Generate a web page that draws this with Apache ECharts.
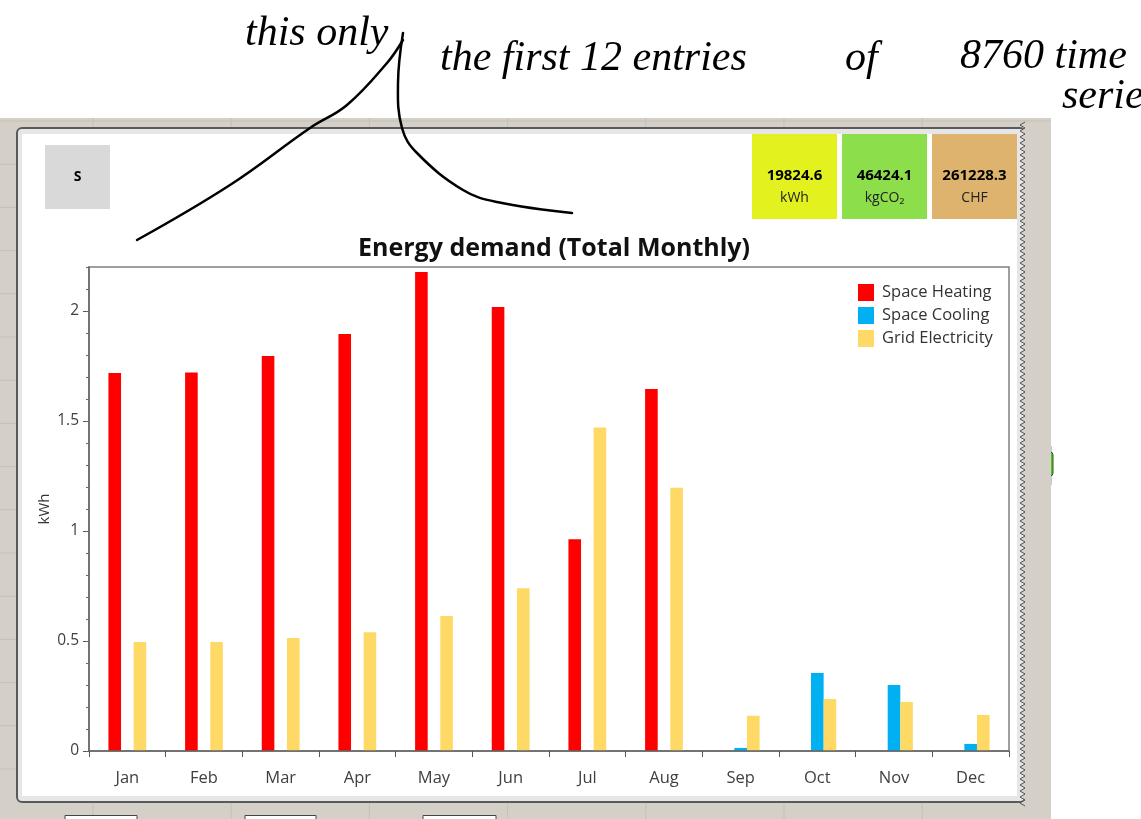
<!DOCTYPE html>
<html><head><meta charset="utf-8">
<script src="https://cdn.jsdelivr.net/npm/echarts@6/dist/echarts.min.js"></script>
<style>html,body{margin:0;padding:0;background:#fff}#c{width:1141px;height:819px}</style>
</head><body><div id="c"></div>
<script>
// ---- data ----
const months = ['Jan','Feb','Mar','Apr','May','Jun','Jul','Aug','Sep','Oct','Nov','Dec'];
const spaceHeating    = [1.718, 1.72, 1.795, 1.895, 2.177, 2.018, 0.962, 1.645, 0, 0, 0, 0];
const spaceCooling    = [0, 0, 0, 0, 0, 0, 0, 0, 0.014, 0.355, 0.300, 0.032];
const gridElectricity = [0.495, 0.495, 0.514, 0.540, 0.614, 0.740, 1.470, 1.197, 0.160, 0.236, 0.223, 0.164];
const seriesNames = ['Space Heating','Space Cooling','Grid Electricity'];
const kpiValues = ['19824.6','46424.1','261228.3'];
const kpiUnits  = ['kWh','kgCO\u2082','CHF'];
const yMin = 0, yMax = 2.2, yMajor = 0.5, yMinor = 0.1;

// ---- decoration ----
const g = [];
g.push({type:'rect', shape:{x:0,y:118,width:1051,height:701}, style:{fill:'#d4d0c8'}, z:0});
for (let i=0;i<8;i++){ const x=93+138.2*i; if(x<1051) g.push({type:'line', shape:{x1:x,y1:118,x2:x,y2:819}, style:{stroke:'#c4c0b8',lineWidth:1}, z:0}); }
for (let i=0;i<16;i++){ const y=121+43.2*i; g.push({type:'line', shape:{x1:0,y1:y,x2:1051,y2:y}, style:{stroke:'#c4c0b8',lineWidth:1}, z:0}); }
g.push({type:'rect', shape:{x:1038,y:446,width:13,height:39}, style:{fill:'#b7a6e2',stroke:'#9a88c8',lineWidth:1}, z:1});
g.push({type:'rect', shape:{x:1047,y:452,width:6,height:24,r:3}, style:{fill:'#5fc02a',stroke:'#2c5a10',lineWidth:1}, z:1});
[[65,72],[245,71],[423,73]].forEach(b=>g.push({type:'rect', shape:{x:b[0],y:815.5,width:b[1],height:10}, style:{fill:'#fff',stroke:'#444',lineWidth:1}, z:1}));
g.push({type:'rect', shape:{x:17,y:128,width:1008,height:674,r:5}, style:{fill:'#e6e6e6',stroke:'#5a5a5a',lineWidth:2}, z:1});
g.push({type:'rect', shape:{x:22,y:134,width:995,height:662}, style:{fill:'#ffffff'}, z:1});
{ const pts=[]; for(let y=122,k=0;y<=806;y+=3,k++){ pts.push([k%2?1020:1025,y]); }
  g.push({type:'polygon', shape:{points:[[1051,122]].concat(pts,[[1051,806]])}, style:{fill:'#d4d0c8'}, z:2});
  g.push({type:'polyline', shape:{points:pts}, style:{stroke:'#555',lineWidth:1,fill:null}, z:2}); }
g.push({type:'rect', shape:{x:45,y:145,width:65,height:64}, style:{fill:'#d9d9d9'}, z:3});
g.push({type:'text', x:77.5, y:177, style:{text:'S', font:'bold 14px "Open Sans", sans-serif', fill:'#000', align:'center', verticalAlign:'middle'}, z:4});
const kpiColors = ['#e3f21f','#8cde4a','#ddb36e'];
const kpiX = [752, 842, 932];
kpiValues.forEach((v,i)=>{
  g.push({type:'rect', shape:{x:kpiX[i],y:134,width:85,height:85}, style:{fill:kpiColors[i]}, z:3});
  g.push({type:'text', x:kpiX[i]+42.5, y:176, style:{text:v, font:'bold 15px "Open Sans", sans-serif', fill:'#000', align:'center', verticalAlign:'middle'}, z:4});
  g.push({type:'text', x:kpiX[i]+42.5, y:198, style:{text:kpiUnits[i], font:'14px "Open Sans", sans-serif', fill:'#222', align:'center', verticalAlign:'middle'}, z:4});
});
const hand = 'italic 42px "Liberation Serif", serif';
[['this only',245,55],['the first 12 entries',440,80],['of',845,80],['8760 time',960,78],['series',1062,118]].forEach(t=>{
  g.push({type:'text', x:t[1], y:t[2], style:{text:t[0], font:hand, fill:'#000', align:'left', verticalAlign:'bottom'}, z:10});
});
g.push({type:'polyline', shape:{points:[[137,240],[230,185],[310,128],[347,105],[387,63],[403,40]], smooth:0.4}, style:{stroke:'#000',lineWidth:2.5,fill:null,lineCap:'round'}, z:10});
g.push({type:'polyline', shape:{points:[[403,33],[398,83],[402,128],[417,153],[463,190],[497,202],[572,213]], smooth:0.4}, style:{stroke:'#000',lineWidth:2.5,fill:null,lineCap:'round'}, z:10});

const chart = echarts.init(document.getElementById('c'), null, {renderer:'canvas'});
const barCommon = {type:'bar', barWidth:12.6, barGap:'0%', z:5};
const font = '"Open Sans", sans-serif';
chart.setOption({
  animation:false,
  backgroundColor:'#ffffff',
  graphic:g,
  title:{text:'Energy demand (Total Monthly)', left:549, top:231, textAlign:'center',
         textStyle:{fontFamily:font, fontWeight:'bold', fontSize:25, color:'#111'}, z:6},
  color:['#ff0000','#00b0f0','#ffd966'],
  legend:{orient:'vertical', left:853, top:279, itemWidth:16, itemHeight:17, itemGap:6, icon:'rect',
          data:seriesNames, textStyle:{fontFamily:font, fontSize:16.5, color:'#333', padding:[0,0,0,3]}, z:6},
  grid:{left:89, right:132, top:267, bottom:68, show:true, borderColor:'#808080', borderWidth:1.5, backgroundColor:'transparent', z:5},
  xAxis:{type:'category', data:months, boundaryGap:true,
         axisLine:{lineStyle:{color:'#666',width:1.5}},
         axisTick:{show:true, length:6, alignWithLabel:false, lineStyle:{color:'#555'}},
         axisLabel:{fontFamily:font, fontSize:16.5, color:'#404040', margin:19},
         z:6},
  yAxis:[
    {type:'value', min:yMin, max:yMax, interval:yMajor, name:'kWh', nameLocation:'middle', nameRotate:90, nameGap:37,
     nameMoveOverlap:false,
     nameTextStyle:{fontFamily:font, fontSize:15, color:'#333'},
     axisLine:{show:true, lineStyle:{color:'#666',width:1.5}},
     axisTick:{show:true, length:6, lineStyle:{color:'#555'}},
     axisLabel:{showMaxLabel:false, fontFamily:font, fontSize:15.5, color:'#404040', margin:10},
     splitLine:{show:false}, z:6},
    {type:'value', min:yMin, max:yMax, interval:yMinor, position:'left',
     axisLine:{show:false}, axisTick:{show:true, length:3, lineStyle:{color:'#666'}},
     axisLabel:{show:false}, splitLine:{show:false}, z:6}
  ],
  series:[
    Object.assign({name:seriesNames[0], data:spaceHeating}, barCommon),
    Object.assign({name:seriesNames[1], data:spaceCooling}, barCommon),
    Object.assign({name:seriesNames[2], data:gridElectricity}, barCommon)
  ]
});
</script></body></html>
